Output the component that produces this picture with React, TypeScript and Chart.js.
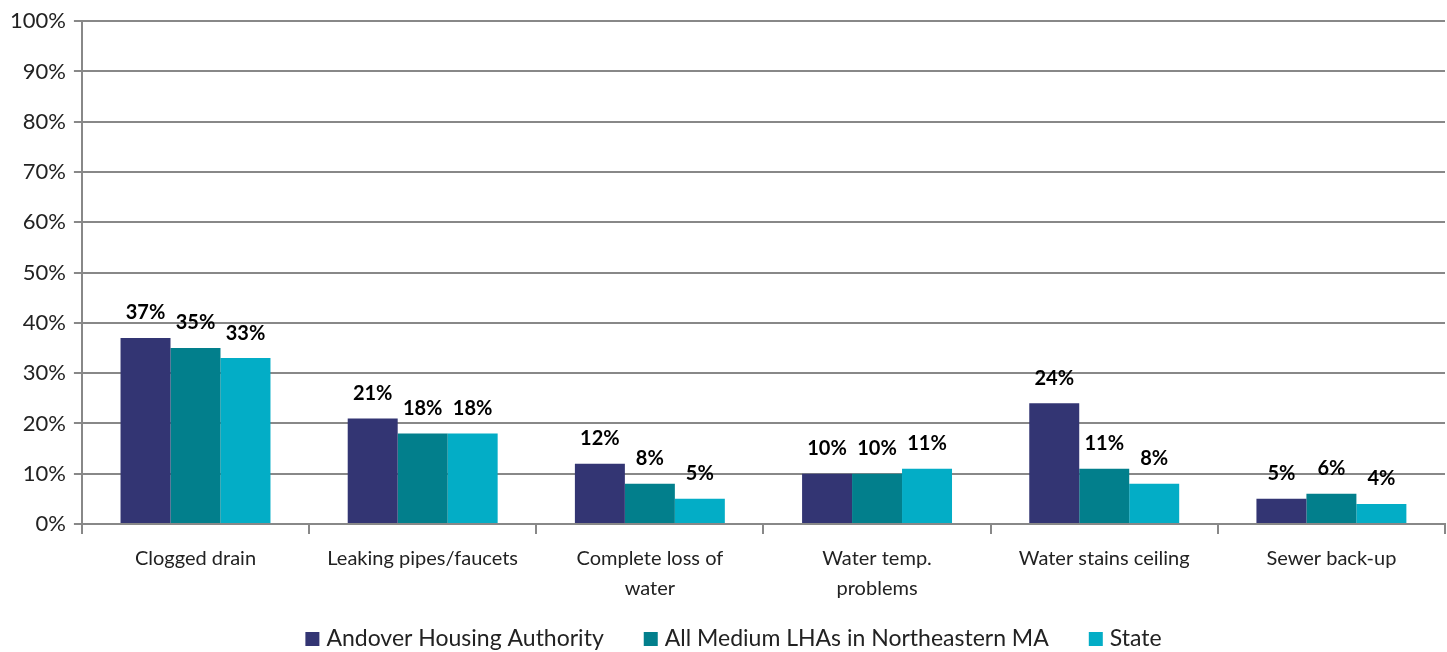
import React, { useEffect, useRef } from "react";
import { Chart, registerables } from "chart.js";
Chart.register(...registerables);

const categories: (string | string[])[] = [
  "Clogged drain",
  "Leaking pipes/faucets",
  ["Complete loss of", "water"],
  ["Water temp.", "problems"],
  "Water stains ceiling",
  "Sewer back-up",
];
const andover = [37, 21, 12, 10, 24, 5];
const medium = [35, 18, 8, 10, 11, 6];
const state = [33, 18, 5, 11, 8, 4];
const seriesNames = ["Andover Housing Authority", "All Medium LHAs in Northeastern MA", "State"];
const colors = ["#333573", "#027F8C", "#03ADC6"];
const FONT = "Lato, 'Open Sans', sans-serif";

const labelPlugin = {
  id: "barLabels",
  afterDatasetsDraw(chart: any) {
    const ctx = chart.ctx;
    ctx.save();
    ctx.font = `bold 20px ${FONT}`;
    ctx.fillStyle = "#000";
    ctx.textAlign = "center";
    ctx.textBaseline = "middle";
    chart.data.datasets.forEach((ds: any, i: number) => {
      const meta = chart.getDatasetMeta(i);
      meta.data.forEach((bar: any, j: number) => {
        ctx.fillText(ds.data[j] + "%", bar.x, bar.y - 25);
      });
    });
    ctx.restore();
  },
};

const legendPlugin = {
  id: "bottomLegend",
  afterDraw(chart: any) {
    const ctx = chart.ctx;
    ctx.save();
    ctx.font = `23px ${FONT}`;
    ctx.textBaseline = "middle";
    ctx.textAlign = "left";
    const box = 14, gapText = 7, gapItem = 40;
    const items = chart.data.datasets.map((ds: any) => ({
      label: ds.label,
      color: ds.backgroundColor,
      w: box + gapText + ctx.measureText(ds.label).width,
    }));
    const total = items.reduce((s: number, it: any) => s + it.w, 0) + gapItem * (items.length - 1);
    let x = chart.width / 2 + 10 - total / 2;
    const y = 639;
    items.forEach((it: any) => {
      ctx.fillStyle = it.color;
      ctx.fillRect(x, y - box / 2, box, box);
      ctx.fillStyle = "#222";
      ctx.fillText(it.label, x + box + gapText, y);
      x += it.w + gapItem;
    });
    ctx.restore();
  },
};

export default function App() {
  const ref = useRef<HTMLCanvasElement>(null);
  useEffect(() => {
    const chart = new Chart(ref.current!, {
      type: "bar",
      data: {
        labels: categories,
        datasets: [andover, medium, state].map((d, i) => ({
          label: seriesNames[i],
          data: d,
          backgroundColor: colors[i],
          categoryPercentage: 0.66,
          barPercentage: 1,
        })),
      },
      options: {
        animation: false,
        responsive: false,
        layout: { padding: { top: 10, right: 2, left: 2, bottom: 38 } },
        plugins: {
          legend: { display: false },
          tooltip: { enabled: false },
        },
        scales: {
          x: {
            grid: { display: true, drawOnChartArea: false, color: "#888", lineWidth: 2, tickLength: 10, offset: true },
            border: { color: "#888", width: 2 },
            ticks: { font: { family: FONT, size: 20, lineHeight: 1.5 }, color: "#222", maxRotation: 0, autoSkip: false, padding: 10 },
          },
          y: {
            min: 0,
            max: 100,
            ticks: { stepSize: 10, callback: (v: any) => v + "%", font: { family: FONT, size: 22 }, color: "#222", padding: 8 },
            grid: { color: "#888", lineWidth: 2, tickLength: 8 },
            border: { color: "#888", width: 2 },
          },
        },
      },
      plugins: [labelPlugin, legendPlugin],
    });
    return () => chart.destroy();
  }, []);
  return (
    <div style={{ position: "fixed", left: 0, top: 0, width: 1447, height: 652, background: "#fff" }}>
      <canvas ref={ref} width={1447} height={652} />
    </div>
  );
}
